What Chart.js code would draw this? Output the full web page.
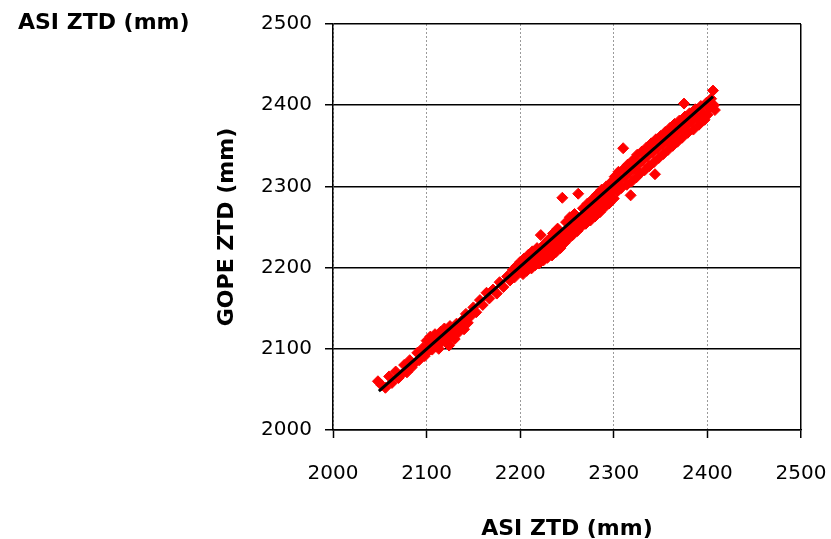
<!DOCTYPE html>
<html>
<head>
<meta charset="utf-8">
<script src="https://cdn.jsdelivr.net/npm/chart.js@4.4.1/dist/chart.umd.min.js"></script>
<style>
  html, body { margin: 0; padding: 0; background: #fff; }
  #wrap { position: relative; width: 831px; height: 539px; overflow: hidden; }
  #corner-title {
    position: absolute; left: 18px; top: 9px;
    font: bold 22px "DejaVu Sans", sans-serif; color: #000;
  }
</style>
</head>
<body>
<div id="wrap">
  <canvas id="chart" width="831" height="539"></canvas>
  <div id="corner-title">ASI ZTD (mm)</div>
</div>
<script>
// ASI ZTD (x) vs GOPE ZTD (y)
const asiZtd = [
  2048, 2052, 2056, 2060, 2063, 2067, 2070, 2073, 2076, 2079, 2082, 2084, 2087, 2090, 2092, 2094, 2096, 2098,
  2100, 2101, 2103, 2104, 2106, 2107, 2109, 2110, 2112, 2113, 2115, 2116, 2118, 2119, 2121, 2122, 2124, 2125,
  2127, 2128, 2130, 2132, 2134, 2136, 2138, 2140, 2142, 2144,
  2147, 2150, 2153, 2157, 2160, 2164, 2167, 2171, 2175, 2178, 2182, 2186, 2189,
  2192, 2194, 2196, 2198, 2200, 2201, 2203, 2204, 2206, 2207, 2209, 2210, 2212, 2213, 2215, 2216, 2218, 2219,
  2220, 2222, 2223, 2225, 2226, 2228, 2229, 2231, 2232, 2234, 2235, 2237, 2238, 2240, 2241, 2243, 2245, 2246,
  2247, 2249, 2250, 2252, 2253, 2255, 2256, 2258, 2260, 2261, 2262, 2264, 2265, 2267, 2268, 2270, 2272, 2273,
  2275, 2277, 2278, 2280, 2282, 2283, 2285, 2287, 2288, 2290, 2292, 2293, 2295, 2297, 2298, 2300,
  2301, 2302, 2304, 2305, 2307, 2308, 2310, 2311, 2312, 2314, 2315, 2317, 2318, 2319, 2321, 2322, 2324, 2325,
  2327, 2328, 2330, 2331, 2333, 2335, 2336, 2338, 2340, 2341, 2343, 2344, 2345, 2347, 2348, 2350, 2352, 2353,
  2355, 2357, 2358, 2360, 2362, 2363, 2365, 2367, 2368, 2370, 2372, 2373, 2375, 2376, 2378, 2379, 2381, 2383,
  2385, 2387, 2389, 2391, 2393, 2395, 2397, 2399, 2400, 2402, 2404, 2406, 2407, 2408
];
const gopeZtd = [
  2060, 2055, 2052, 2066, 2058, 2072, 2064, 2068, 2080, 2071, 2086, 2077, 2082, 2095, 2086, 2092, 2101, 2091,
  2110, 2096, 2104, 2115, 2099, 2108, 2118, 2103, 2112, 2100, 2121, 2108, 2114, 2125, 2110, 2119, 2104, 2128,
  2116, 2122, 2112, 2131, 2120, 2126, 2135, 2124, 2143, 2132,
  2140, 2151, 2145, 2160, 2154, 2169, 2162, 2173, 2168, 2182, 2176, 2189, 2184,
  2197, 2188, 2202, 2194, 2207, 2199, 2192, 2211, 2203, 2196, 2216, 2206, 2199, 2220, 2210, 2203, 2224, 2213,
  2205, 2240, 2218, 2209, 2229, 2221, 2212, 2235, 2224, 2215, 2242, 2228, 2219, 2248, 2234, 2224, 2286, 2240,
  2230, 2256, 2244, 2236, 2262, 2249, 2240, 2266, 2254, 2245, 2291, 2260, 2250, 2273, 2262, 2254, 2279, 2267,
  2258, 2284, 2272, 2263, 2290, 2278, 2268, 2296, 2283, 2274, 2300, 2288, 2279, 2305, 2294, 2285,
  2312, 2303, 2294, 2318, 2308, 2298, 2347, 2322, 2312, 2302, 2327, 2317, 2289, 2306, 2333, 2322, 2311, 2339,
  2328, 2316, 2343, 2332, 2320, 2348, 2337, 2325, 2353, 2342, 2330, 2315, 2358, 2347, 2335, 2362, 2352, 2340,
  2367, 2356, 2345, 2372, 2361, 2350, 2377, 2366, 2355, 2381, 2371, 2360, 2402, 2386, 2376, 2366, 2390, 2380,
  2370, 2395, 2385, 2376, 2399, 2390, 2382, 2403, 2388, 2396, 2408, 2418, 2400, 2394
];

// fitted line end points
const fitX = [2049, 2406];
const fitY = [2048, 2410.5];

const axisMin = 2000;
const axisMax = 2500;
const tickStep = 100;

const scatterPoints = asiZtd.map((x, i) => ({ x: x, y: gopeZtd[i] }));
const fitPoints = fitX.map((x, i) => ({ x: x, y: fitY[i] }));

const tickFont = { family: 'DejaVu Sans', size: 20 };
const titleFont = { family: 'DejaVu Sans', size: 22, weight: 'bold' };
const plainNumber = (v) => String(v);

const ctx = document.getElementById('chart').getContext('2d');
const chart = new Chart(ctx, {
    type: 'scatter',
    data: {
        datasets: [
            {
                label: 'fit',
                type: 'line',
                data: fitPoints,
                borderColor: '#000',
                borderWidth: 3,
                pointRadius: 0,
                fill: false,
                order: 0
            },
            {
                label: 'GOPE vs ASI',
                data: scatterPoints,
                pointStyle: 'rectRot',
                pointRadius: 5.5,
                pointBackgroundColor: '#ff0000',
                pointBorderColor: '#ff0000',
                pointBorderWidth: 1,
                order: 1
            }
        ]
    },
    options: {
        responsive: false,
        animation: false,
        events: [],
        layout: { padding: { top: 24, right: 30, left: 0, bottom: 0 } },
        plugins: {
            legend: { display: false },
            tooltip: { enabled: false }
        },
        scales: {
            x: {
                type: 'linear',
                min: axisMin,
                max: axisMax,
                afterFit: (scale) => {
                    scale.height = 109;
                    scale.paddingLeft = 0;
                    scale.paddingRight = 0;
                },
                ticks: { stepSize: tickStep, color: '#000', font: tickFont, padding: 24, maxRotation: 0, callback: plainNumber },
                grid: {
                    color: (c) => (c.tick && c.tick.value === axisMax ? '#000' : '#9a9a9a'),
                    lineWidth: (c) => (c.tick && c.tick.value === axisMax ? 1.5 : 1),
                    tickColor: '#000',
                    tickWidth: 1.5,
                    tickLength: 8,
                    tickBorderDash: []
                },
                border: {
                    color: '#000',
                    width: 1.5,
                    dash: (c) => (c.tick && c.tick.value === axisMax ? [] : [2, 2])
                },
                title: { display: true, text: 'ASI ZTD (mm)', color: '#000', font: titleFont, padding: { top: 0, bottom: -3 } }
            },
            y: {
                type: 'linear',
                min: axisMin,
                max: axisMax,
                afterFit: (scale) => {
                    scale.width = 333;
                    scale.paddingTop = 0;
                    scale.paddingBottom = 0;
                },
                ticks: { stepSize: tickStep, color: '#000', font: tickFont, padding: 13, callback: plainNumber },
                grid: {
                    color: '#000',
                    lineWidth: 1.5,
                    tickColor: '#000',
                    tickLength: 8
                },
                border: { color: '#000', width: 1.5 },
                title: { display: true, text: 'GOPE ZTD (mm)', color: '#000', font: titleFont, padding: { top: 214, bottom: 0 } }
            }
        }
    }
});
</script>
</body>
</html>
